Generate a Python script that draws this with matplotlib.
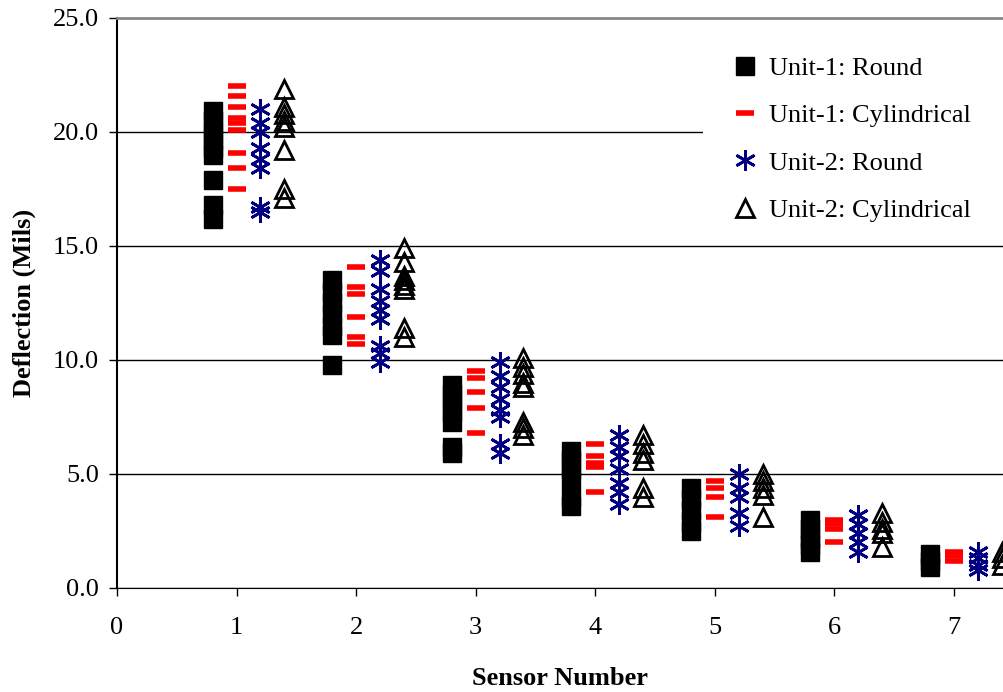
import matplotlib
matplotlib.use("Agg")
import matplotlib.pyplot as plt
from matplotlib.patches import Rectangle

plt.rcParams['font.family'] = ['Liberation Serif', 'DejaVu Serif']

# Deflection readings (mils) per sensor, sensors 1..7
sensors = [1, 2, 3, 4, 5, 6, 7]

u1_round = [
    [20.9, 20.5, 20.1, 19.7, 19.3, 19.0, 17.9, 16.8, 16.2],
    [13.5, 13.0, 12.5, 12.0, 11.5, 11.1, 9.8],
    [8.9, 8.5, 8.1, 7.7, 7.3, 6.2, 5.9],
    [6.0, 5.6, 5.2, 4.8, 4.0, 3.6],
    [4.4, 3.9, 3.4, 2.9, 2.5],
    [3.0, 2.6, 2.2, 1.9, 1.6],
    [1.5, 1.2, 0.9],
]
u1_cyl = [
    [22.0, 21.6, 21.1, 20.6, 20.4, 20.1, 19.1, 18.4, 17.5],
    [14.1, 13.2, 12.9, 11.9, 11.0, 10.7],
    [9.5, 9.2, 8.6, 7.9, 6.8],
    [6.3, 5.8, 5.5, 5.3, 4.2],
    [4.7, 4.4, 4.0, 3.1],
    [3.0, 2.8, 2.6, 2.0],
    [1.6, 1.4, 1.2],
]
u2_round = [
    [21.0, 20.4, 20.0, 19.3, 18.8, 18.4, 16.7, 16.5],
    [14.4, 13.9, 13.1, 12.6, 12.2, 11.8, 10.6, 10.3, 9.9],
    [9.9, 9.3, 8.8, 8.3, 7.8, 7.5, 6.3, 5.9],
    [6.7, 6.2, 5.8, 5.2, 4.6, 4.2, 3.7],
    [5.0, 4.4, 4.0, 3.3, 2.7],
    [3.2, 2.8, 2.4, 2.0, 1.6],
    [1.6, 1.3, 1.0, 0.8],
]
u2_cyl = [
    [21.9, 21.1, 20.8, 20.5, 20.2, 19.2, 17.5, 17.1],
    [14.9, 14.3, 13.7, 13.5, 13.3, 13.1, 11.4, 11.0],
    [10.1, 9.7, 9.4, 9.0, 8.8, 7.3, 7.0, 6.7],
    [6.7, 6.3, 5.9, 5.6, 4.4, 4.0],
    [5.0, 4.7, 4.4, 4.1, 3.1],
    [3.3, 2.9, 2.6, 2.4, 1.8],
    [1.6, 1.3, 1.0],
]

labels = ['Unit-1: Round', 'Unit-1: Cylindrical', 'Unit-2: Round', 'Unit-2: Cylindrical']
x_ticks = [0, 1, 2, 3, 4, 5, 6, 7]
y_ticks = [0, 5, 10, 15, 20, 25]

fig = plt.figure(figsize=(10.04, 6.92), dpi=100)
ax = fig.add_axes([0.1165, 0.1503, 0.8835, 0.8237])


def flatten(groups, offset):
    xs, ys = [], []
    for s, vals in zip(sensors, groups):
        for v in vals:
            xs.append(s + offset)
            ys.append(v)
    return xs, ys


x, y = flatten(u1_round, -0.2)
ax.plot(x, y, ls='none', marker='s', ms=13, mfc='black', mec='black', label=labels[0], zorder=3)
x, y = flatten(u1_cyl, 0.0)
ax.plot(x, y, ls='none', marker='_', ms=13, mew=4, color='#ff0000', label=labels[1], zorder=3)
x, y = flatten(u2_round, 0.2)
ax.plot(x, y, ls='none', marker=(6, 2, 0), ms=15, mew=2, color='#000080', label=labels[2], zorder=3)
x, y = flatten(u2_cyl, 0.4)
ax.plot(x, y, ls='none', marker='^', ms=13, mew=2, mfc='none', mec='black', label=labels[3], zorder=3)

ax.set_xlim(0, 7.42)
ax.set_ylim(0, 25)
ax.set_xticks(x_ticks)
ax.set_yticks(y_ticks)
ax.set_yticklabels(['%.1f' % t for t in y_ticks])
ax.tick_params(labelsize=19, direction='out', length=6, width=1, colors='black')
ax.tick_params(axis='x', pad=15)
ax.tick_params(axis='y', pad=7)

ax.yaxis.grid(True, color='black', lw=1)
ax.set_axisbelow(True)
ax.spines['right'].set_visible(False)
ax.spines['top'].set_color('#888888')
ax.spines['top'].set_linewidth(2)
ax.spines['left'].set_linewidth(1.5)

ax.set_xlabel('Sensor Number', fontsize=19, fontweight='bold', labelpad=20)
ax.set_ylabel('Deflection (Mils)', fontsize=19, fontweight='bold', labelpad=12)

# white box behind the legend, hides the 20.0 gridline on the right
ax.add_patch(Rectangle((0.700, 0.66), 0.30, 0.285, transform=fig.transFigure,
                       facecolor='white', edgecolor='none', zorder=1, clip_on=False))

leg = fig.legend(loc='upper left', bbox_to_anchor=(0.734, 0.918), fontsize=19,
                 frameon=False, handlelength=0.6, handletextpad=0.6,
                 labelspacing=0.9, borderpad=0, borderaxespad=0, numpoints=1)

fig.savefig('out.png', dpi=100)
